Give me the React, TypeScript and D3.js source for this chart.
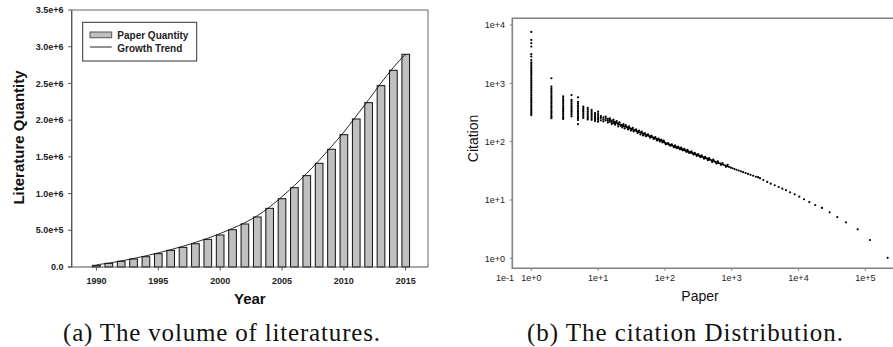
import * as d3 from 'd3';

// ---------- (a) volume of literatures ----------
const years = [1990, 1991, 1992, 1993, 1994, 1995, 1996, 1997, 1998, 1999, 2000, 2001, 2002,
  2003, 2004, 2005, 2006, 2007, 2008, 2009, 2010, 2011, 2012, 2013, 2014, 2015];
const paperQuantity = [23e3, 50e3, 78e3, 109e3, 140e3, 181e3, 227e3, 268e3, 317e3, 377e3, 436e3,
  508e3, 586e3, 681e3, 799e3, 930e3, 1080e3, 1244e3, 1412e3, 1603e3, 1802e3, 2016e3, 2238e3,
  2470e3, 2679e3, 2897e3];
const trendYears = [1989.6, 1990, 1991, 1992, 1993, 1994, 1995, 1996, 1997, 1998, 1999, 2000, 2001,
  2002, 2003, 2004, 2005, 2006, 2007, 2008, 2009, 2010, 2011, 2012, 2013, 2014, 2015];
const trendValues = [0, 25e3, 52e3, 83e3, 116e3, 152e3, 192e3, 236e3, 283e3, 335e3, 392e3, 455e3,
  526e3, 604e3, 698e3, 818e3, 958e3, 1110e3, 1275e3, 1452e3, 1642e3, 1838e3, 2055e3, 2278e3,
  2505e3, 2718e3, 2900e3];
const yTicksA = [0, 5e5, 1e6, 1.5e6, 2e6, 2.5e6, 3e6, 3.5e6];
const yTickLabelsA = ['0.0', '5.0e+5', '1.0e+6', '1.5e+6', '2.0e+6', '2.5e+6', '3.0e+6', '3.5e+6'];
const xTicksA = [1990, 1995, 2000, 2005, 2010, 2015];

// ---------- (b) citation distribution: [papers, citation] ----------
const columnCounts = [1, 2, 3, 4, 5, 6, 7, 8, 9, 10];
const columnCitations = [
  [7600, 5550, 4870, 4265, 3160, 2870, 2510, 2300, 2150, 2000, 1880, 1760, 1650, 1550, 1450, 1360,
    1270, 1190, 1110, 1040, 975, 910, 850, 795, 745, 695, 650, 610, 570, 535, 500, 470, 440, 410,
    385, 360, 340, 320, 300, 285],
  [1222, 880, 820, 765, 715, 670, 625, 585, 545, 510, 475, 445, 415, 390, 365, 340, 320, 300, 280,
    265, 252],
  [600, 560, 520, 485, 455, 425, 400, 375, 350, 330, 310, 290, 272, 255, 245],
  [630, 520, 485, 455, 425, 400, 375, 350, 330, 310, 290, 270],
  [575, 480, 450, 420, 395, 370, 345, 325, 305, 285, 265, 250, 235, 200],
  [400, 375, 350, 330, 310, 290, 272, 255],
  [380, 355, 330, 310, 290, 272, 255, 240],
  [350, 325, 305, 285, 268, 252, 237],
  [310, 290, 272, 255, 240, 225],
  [326, 300, 280, 262, 248, 237, 220],
];
const bandPoints = [
  [11, 275], [11, 255], [12, 262], [12, 240], [13, 250], [13, 232], [14, 245], [14, 228], [15, 236],
  [15, 220], [16, 230], [16, 215], [17, 222], [17, 208], [18, 216], [18, 204], [19, 210], [20, 205],
  [20, 195], [21, 198], [22, 194], [22, 186], [23, 190], [24, 187], [25, 182], [26, 180], [27, 176],
  [28, 174], [29, 171], [30, 169], [31, 166], [32, 164], [33, 162], [35, 158], [36, 155], [38, 152],
  [40, 148], [42, 145], [44, 142], [46, 139], [48, 136], [50, 133], [53, 131], [55, 128], [58, 125],
  [61, 122], [64, 120], [67, 117], [70, 115], [74, 112], [77, 110], [81, 108], [85, 106], [89, 104],
  [93, 101], [97, 99],
  [11, 232], [12, 222], [13, 270], [14, 212], [15, 252], [16, 200], [17, 238], [18, 195], [19, 225],
  [20, 182], [21, 215], [23, 175], [24, 200], [25, 168], [26, 192], [28, 162], [29, 183], [31, 155],
  [33, 172], [34, 150], [37, 162], [39, 141], [41, 155], [43, 133], [45, 148], [47, 128], [50, 140],
  [52, 124], [56, 134], [60, 117], [63, 127], [68, 111], [72, 120], [76, 105], [80, 113], [84, 101],
  [88, 108], [92, 97], [96, 104],
];
const midPoints = [
  [101, 95], [105, 93], [109, 92], [113, 90], [118, 89], [123, 87], [128, 86], [134, 84], [139, 83],
  [145, 81], [151, 80], [155, 79], [160, 78], [165, 77], [170, 76], [176, 75], [181, 74], [187, 73],
  [193, 72], [199, 71], [206, 70], [213, 69], [220, 68], [228, 67], [236, 66], [245, 65], [254, 64],
  [263, 63], [273, 62], [283, 61], [294, 60], [306, 59], [319, 58], [332, 57], [346, 56], [361, 55],
  [377, 54], [394, 53], [411, 52], [430, 51], [450, 50], [472, 49], [495, 48], [520, 47], [547, 46],
  [575, 45], [607, 44], [640, 43], [676, 42], [714, 41], [757, 40], [802, 39], [853, 38], [907, 37],
  [966, 36], [1026, 35], [1100, 34], [1180, 33], [1270, 32], [1375, 31], [1485, 30], [1615, 29],
  [1755, 28], [1915, 27], [2095, 26], [2300, 25], [2480, 24.6],
  [103, 90], [112, 94], [120, 85], [127, 90], [136, 80], [142, 86], [150, 77], [158, 82], [168, 74],
  [175, 79], [185, 71], [195, 75], [210, 67], [218, 72], [232, 64], [250, 68], [268, 60], [280, 64],
  [300, 57], [315, 61], [340, 54], [355, 58], [385, 51], [400, 55], [440, 48], [460, 52], [510, 45],
  [530, 49], [590, 42], [620, 46], [690, 40], [730, 43], [820, 37], [870, 40],
];
const tailPoints = [
  [2650, 23.6], [2970, 22], [3410, 20.4], [3840, 19], [4400, 17.9], [5050, 16.7], [5720, 15.6],
  [6500, 14.7], [7460, 13.5], [8770, 12.5], [10280, 11.4], [12080, 10.3], [14500, 9.2],
  [17800, 8.2], [22500, 7.3], [29300, 6.15], [38100, 5.1], [51400, 4.14], [76900, 3.14],
  [117500, 2.06], [216000, 1.02],
];
const xTicksB = [1, 10, 100, 1000, 10000, 100000];
const xTickLabelsB = ['1e+0', '1e+1', '1e+2', '1e+3', '1e+4', '1e+5'];
const yTicksB = [1, 10, 100, 1000, 10000];
const yTickLabelsB = ['1e+0', '1e+1', '1e+2', '1e+3', '1e+4'];

const sans = 'Liberation Sans, Arial, sans-serif';
const serif = 'Liberation Serif, Times New Roman, serif';

export default function App() {
  // left panel
  const boxA = { left: 71.7, right: 428, top: 10, bottom: 267 };
  const xA = d3.scaleLinear().domain([1988, 2016.8]).range([boxA.left, boxA.right]);
  const yA = d3.scaleLinear().domain([0, 3.5e6]).range([boxA.bottom, boxA.top]);
  const barW = xA(1990.31) - xA(1989.69);
  const trendPath = d3.line<number>()
    .x((_, i) => xA(trendYears[i]))
    .y(d => yA(d))
    .curve(d3.curveMonotoneX)(trendValues);

  // right panel
  const boxB = { left: 512.3, right: 900, top: 18.3, bottom: 268.3 };
  const xB = d3.scaleLog().domain([1, 1e5]).range([531.3, 865.3]);
  const yB = d3.scaleLog().domain([1, 1e4]).range([258.3, 25]);
  const scatter: number[][] = [];
  columnCitations.forEach((col, i) => col.forEach(c => scatter.push([columnCounts[i], c])));
  bandPoints.concat(midPoints, tailPoints).forEach(p => scatter.push(p));

  return (
    <svg width={893} height={347} style={{ display: 'block' }}>
      <style>{'body{margin:0}'}</style>
      <rect width={893} height={347} fill="#fff" />

      {/* ---- (a) ---- */}
      <g>
        {years.map((yr, i) => (
          <rect key={yr} x={xA(yr) - barW / 2} y={yA(paperQuantity[i])} width={barW}
            height={yA(0) - yA(paperQuantity[i])} fill="#c0c0c0" stroke="#111" strokeWidth={1} />
        ))}
        <path d={trendPath || ''} fill="none" stroke="#111" strokeWidth={0.9} />
        <path d={`M${boxA.left},${boxA.bottom}V${boxA.top}H${boxA.right}V${boxA.bottom}`}
          fill="none" stroke="#666" strokeWidth={1} />
        <line x1={boxA.left - 4} x2={boxA.right} y1={boxA.bottom} y2={boxA.bottom} stroke="#555" strokeWidth={1.2} />
        <line x1={boxA.left} x2={boxA.left} y1={boxA.top} y2={boxA.bottom} stroke="#555" strokeWidth={1.2} />
        {yTicksA.map((t, i) => (
          <g key={t}>
            <line x1={boxA.left - 3.5} x2={boxA.left} y1={yA(t)} y2={yA(t)} stroke="#555" />
            <text x={63.5} y={yA(t) + 3.2} textAnchor="end" fontFamily={sans} fontWeight="bold"
              fontSize={9} fill="#222">{yTickLabelsA[i]}</text>
          </g>
        ))}
        {xTicksA.map(t => (
          <g key={t}>
            <line x1={xA(t)} x2={xA(t)} y1={boxA.bottom} y2={boxA.bottom + 3.5} stroke="#555" />
            <text x={xA(t)} y={283.5} textAnchor="middle" fontFamily={sans} fontWeight="bold"
              fontSize={9} fill="#222">{t}</text>
          </g>
        ))}
        <text x={(boxA.left + boxA.right) / 2} y={304} textAnchor="middle" fontFamily={sans}
          fontWeight="bold" fontSize={15} fill="#111">Year</text>
        <text transform="translate(23.5,137.5) rotate(-90)" textAnchor="middle" fontFamily={sans}
          fontWeight="bold" fontSize={15} fill="#111">Literature Quantity</text>

        {/* legend */}
        <rect x={82.7} y={22.3} width={114} height={38.7} fill="#fff" stroke="#333" strokeWidth={1} />
        <rect x={90} y={32} width={21.7} height={5.7} fill="#c0c0c0" stroke="#555" strokeWidth={1} />
        <text x={117.3} y={38.6} fontFamily={sans} fontWeight="bold" fontSize={10} fill="#222">Paper Quantity</text>
        <line x1={90} x2={111.7} y1={47} y2={47} stroke="#222" strokeWidth={1} />
        <text x={117.3} y={51.6} fontFamily={sans} fontWeight="bold" fontSize={10} fill="#222">Growth Trend</text>

        <text x={63} y={341} fontFamily={serif} fontSize={25} fill="#111" textLength={317}
          lengthAdjust="spacing">(a) The volume of literatures.</text>
      </g>

      {/* ---- (b) ---- */}
      <g>
        {scatter.map((p, i) => (
          <circle key={i} cx={xB(p[0])} cy={yB(p[1])} r={1.1} fill="#000" />
        ))}
        <path d={`M${boxB.right},${boxB.top}H${boxB.left}V${boxB.bottom}H${boxB.right}`}
          fill="none" stroke="#808080" strokeWidth={1.6} />
        {yTicksB.map((t, i) => (
          <g key={t}>
            <line x1={boxB.left - 2.5} x2={boxB.left} y1={yB(t)} y2={yB(t)} stroke="#808080" />
            <text x={505} y={yB(t) + 3.2} textAnchor="end" fontFamily={sans} fontSize={9}
              fill="#222">{yTickLabelsB[i]}</text>
          </g>
        ))}
        {xTicksB.map((t, i) => (
          <g key={t}>
            <line x1={xB(t)} x2={xB(t)} y1={boxB.bottom} y2={boxB.bottom + 2.5} stroke="#808080" />
            <text x={xB(t)} y={280.5} textAnchor="middle" fontFamily={sans} fontSize={9}
              fill="#222">{xTickLabelsB[i]}</text>
          </g>
        ))}
        <text x={505} y={280.5} textAnchor="middle" fontFamily={sans} fontSize={9} fill="#222">1e-1</text>
        <text x={700} y={300.5} textAnchor="middle" fontFamily={sans} fontSize={14} fill="#111">Paper</text>
        <text transform="translate(478,138.5) rotate(-90)" textAnchor="middle" fontFamily={sans}
          fontSize={14} fill="#111">Citation</text>

        <text x={527} y={341} fontFamily={serif} fontSize={25} fill="#111" textLength={316}
          lengthAdjust="spacing">(b) The citation Distribution.</text>
      </g>
    </svg>
  );
}
